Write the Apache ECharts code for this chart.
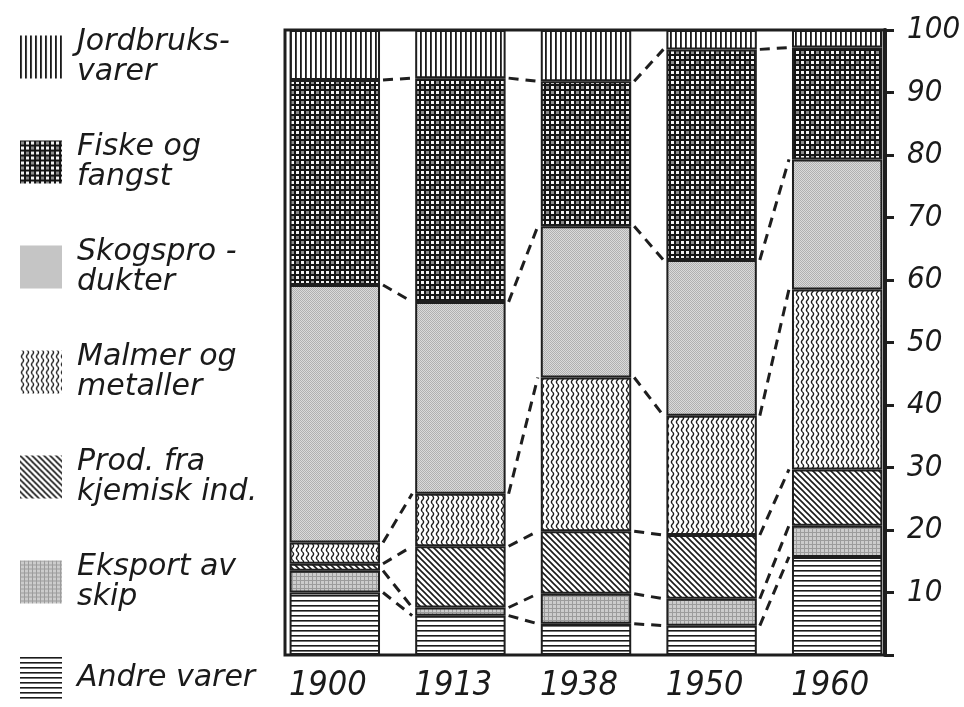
<!DOCTYPE html>
<html>
<head>
<meta charset="utf-8">
<script src="https://cdn.jsdelivr.net/npm/echarts@6/dist/echarts.min.js"></script>
<style>
  html, body { margin: 0; padding: 0; background: #fff; }
  #chart { width: 964px; height: 707px; }
</style>
</head>
<body>
<div id="chart"></div>
<script>
// år og andeler (prosent) lest av figuren, nederst i stabelen først
var years = ['1900', '1913', '1938', '1950', '1960'];
var andreVarer = [10, 6.3, 5, 4.7, 15.7];
var eksportSkip = [3.5, 1.3, 4.8, 4.3, 5];
var kjemisk = [1.1, 9.8, 10, 10.2, 9];
var malmer = [3.4, 8.4, 24.6, 19.1, 28.8];
var skog = [41.2, 30.7, 24.2, 24.9, 20.8];
var fiske = [32.8, 35.8, 23.2, 33.7, 17.9];
var jordbruk = [8, 7.7, 8.2, 3.1, 2.8];
var yTicks = [0, 10, 20, 30, 40, 50, 60, 70, 80, 90, 100];

var names = ['Andre varer', 'Eksport av\nskip', 'Prod. fra\nkjemisk ind.', 'Malmer og\nmetaller',
    'Skogspro -\ndukter', 'Fiske og\nfangst', 'Jordbruks-\nvarer'];
var values = [andreVarer, eksportSkip, kjemisk, malmer, skog, fiske, jordbruk];

var numFont = "'DejaVu Sans Condensed', 'Liberation Sans', sans-serif";

// mønstre (skravur) tegnet på små canvas
function makePattern(w, h, draw) {
    var c = document.createElement('canvas');
    c.width = w;
    c.height = h;
    var ctx = c.getContext('2d');
    ctx.fillStyle = '#fff';
    ctx.fillRect(0, 0, w, h);
    draw(ctx, w, h);
    return { image: c, repeat: 'repeat' };
}

var patterns = [
    // andre varer: vannrette streker
    makePattern(5, 5, function (ctx) {
        ctx.fillStyle = '#1a1a1a';
        ctx.fillRect(0, 0, 5, 1.6);
    }),
    // eksport av skip: lys grå, fint rutenett
    makePattern(4, 4, function (ctx) {
        ctx.fillStyle = '#cccccc';
        ctx.fillRect(0, 0, 4, 4);
        ctx.fillStyle = '#9c9c9c';
        ctx.fillRect(0, 0, 4, 1);
        ctx.fillRect(0, 0, 1, 4);
    }),
    // kjemisk: skrå streker
    makePattern(6, 6, function (ctx) {
        ctx.strokeStyle = '#1a1a1a';
        ctx.lineWidth = 1.6;
        ctx.beginPath();
        ctx.moveTo(-1, -1); ctx.lineTo(7, 7);
        ctx.moveTo(-1, 5); ctx.lineTo(1, 7);
        ctx.moveTo(5, -1); ctx.lineTo(7, 1);
        ctx.stroke();
    }),
    // malmer: bølgete loddrette streker
    makePattern(5, 8, function (ctx) {
        ctx.strokeStyle = '#1a1a1a';
        ctx.lineWidth = 1.3;
        ctx.beginPath();
        for (var y = 0; y <= 8; y += 0.5) {
            var x = 2.5 + 1.1 * Math.sin(y / 8 * Math.PI * 2);
            if (y === 0) ctx.moveTo(x, y); else ctx.lineTo(x, y);
        }
        ctx.stroke();
    }),
    // skogsprodukter: lys grå prikker
    makePattern(2, 2, function (ctx) {
        ctx.fillStyle = '#dadada';
        ctx.fillRect(0, 0, 2, 2);
        ctx.fillStyle = '#b0b0b0';
        ctx.fillRect(0, 0, 1, 1);
        ctx.fillRect(1, 1, 1, 1);
    }),
    // fiske: mørkt rutenett med grå flekker
    makePattern(25, 25, function (ctx) {
        ctx.fillStyle = '#141414';
        ctx.fillRect(0, 0, 25, 25);
        for (var x = 0; x < 25; x += 5) {
            for (var y = 0; y < 25; y += 5) {
                ctx.fillStyle = ((x + y) % 15 === 0) ? '#8c8c8c' : '#f0f0f0';
                ctx.fillRect(x + 1, y + 1, 3, 3);
            }
        }
    }),
    // jordbruk: loddrette streker
    makePattern(5, 5, function (ctx) {
        ctx.fillStyle = '#1a1a1a';
        ctx.fillRect(0, 0, 1.8, 5);
    })
];

var myChart = echarts.init(document.getElementById('chart'));

var series = [];
for (var s = 0; s < names.length; s++) {
    series.push({
        name: names[s],
        type: 'bar',
        stack: 'total',
        xAxisIndex: 1,
        yAxisIndex: 1,
        barWidth: '72%',
        data: values[s],
        itemStyle: {
            color: patterns[s],
            borderColor: '#1e1e1e',
            borderWidth: 2
        },
        emphasis: { disabled: true }
    });
}

// stiplede linjer mellom grensene i søylene
var cumulative = [];
var running = years.map(function () { return 0; });
for (var k = 0; k < values.length - 1; k++) {
    running = running.map(function (v, i) { return v + values[k][i]; });
    cumulative.push(running.slice());
}
var dashData = [];
cumulative.forEach(function (cum) {
    for (var i = 0; i < years.length - 1; i++) {
        dashData.push([i, cum[i], cum[i + 1]]);
    }
});
series.push({
    type: 'custom',
    xAxisIndex: 1,
    yAxisIndex: 1,
    silent: true,
    z: 5,
    data: dashData,
    renderItem: function (params, api) {
        var i = api.value(0);
        var p0 = api.coord([i, api.value(1)]);
        var p1 = api.coord([i + 1, api.value(2)]);
        var half = api.size([1, 0])[0] * 0.72 / 2;
        return {
            type: 'line',
            shape: { x1: p0[0] + half + 3, y1: p0[1], x2: p1[0] - half - 3, y2: p1[1] },
            style: { stroke: '#1e1e1e', lineWidth: 3, lineDash: [10, 7] }
        };
    }
});

var legendOrder = names.slice().reverse();

var option = {
    backgroundColor: '#fff',
    animation: false,
    legend: {
        data: legendOrder,
        orient: 'vertical',
        left: 15,
        top: 22,
        icon: 'rect',
        itemWidth: 42,
        itemHeight: 43,
        itemGap: 45,
        selectedMode: false,
        itemStyle: { borderWidth: 0 },
        textStyle: {
            fontFamily: 'DejaVu Sans',
            fontStyle: 'italic',
            fontSize: 30,
            lineHeight: 30,
            color: '#1a1a1a',
            padding: [0, 0, 0, 10]
        }
    },
    grid: [
        {   // ramme og verdiakse
            left: 285, right: 79, top: 30, bottom: 52,
            show: true, borderColor: '#1e1e1e', borderWidth: 3
        },
        {   // søylene
            left: 272, right: 64, top: 30, bottom: 52
        }
    ],
    xAxis: [
        { type: 'category', gridIndex: 0, data: years, show: false },
        {
            type: 'category',
            gridIndex: 1,
            data: years,
            axisLine: { show: false },
            axisTick: { show: false },
            axisLabel: {
                margin: 14,
                padding: [0, 14, 0, 0],
                fontFamily: numFont,
                fontStyle: 'italic',
                fontSize: 34,
                color: '#1a1a1a'
            }
        }
    ],
    yAxis: [
        {
            type: 'value',
            gridIndex: 0,
            position: 'right',
            min: yTicks[0],
            max: yTicks[yTicks.length - 1],
            interval: 10,
            splitLine: { show: false },
            axisLine: { show: true, lineStyle: { color: '#1e1e1e', width: 4 } },
            axisTick: { show: true, inside: false, length: 9, lineStyle: { color: '#1e1e1e', width: 3 } },
            axisLabel: {
                margin: 22,
                fontFamily: numFont,
                fontStyle: 'italic',
                fontSize: 31,
                color: '#1a1a1a',
                formatter: function (v) { return v === 0 ? '' : String(v); }
            }
        },
        { type: 'value', gridIndex: 1, min: 0, max: 100, show: false }
    ],
    series: series
};

myChart.setOption(option);
</script>
</body>
</html>
